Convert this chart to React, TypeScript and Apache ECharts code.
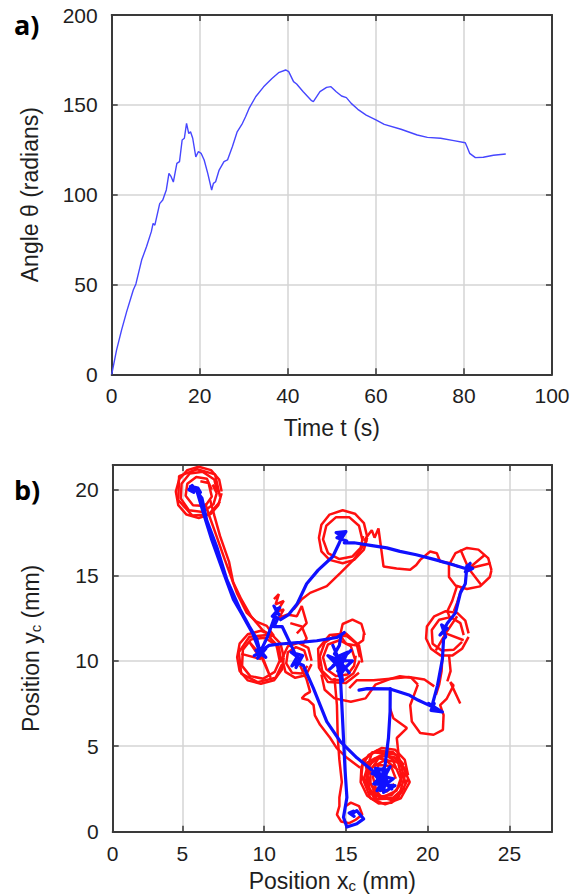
import React, { useEffect, useRef } from "react";
import * as echarts from "echarts";

// ---------- Panel a) : angle vs time ----------
const timeS = [0, 1.1, 2.25, 3.4, 4.9, 5.5, 6.8, 7.9, 9.0, 9.4, 9.8, 10.9, 11.6, 12.4, 13.0, 13.5, 14.0, 14.8, 15.4, 16.0, 16.5, 17.0, 17.5, 17.9, 18.4, 19.1, 19.7, 20.3, 21.0, 21.8, 22.7, 23.1, 23.6, 24.4, 25.5, 26.3, 27.4, 28.5, 29.7, 30.4, 31.2, 32.7, 34.5, 36.4, 37.9, 39.5, 40.2, 41.3, 42.0, 43.5, 45.4, 45.8, 47.3, 48.8, 49.8, 51.0, 52.2, 53.3, 54.4, 55.9, 57.8, 60.0, 61.9, 65.7, 69.4, 71.7, 74.7, 77.7, 80.3, 80.7, 81.3, 82.6, 84.4, 86.7, 89.5];
const angleRad = [0, 13.5, 24.7, 34.9, 46.9, 50.3, 63.6, 71, 79.4, 84, 83, 95, 97, 102.6, 111.9, 110, 107, 117.4, 118.4, 130.4, 131.4, 139.7, 134, 135, 131.4, 121, 124, 123, 119.3, 112, 102.6, 106.3, 107.2, 113.7, 118.4, 119.3, 126.7, 135, 139.7, 143.4, 148, 154.5, 160, 164.7, 167.9, 169.4, 168.5, 162.9, 161.6, 157.3, 152.3, 151.8, 157.3, 159.7, 160.1, 157.3, 154.9, 154, 150.8, 147.5, 144.3, 141.6, 139.1, 136.4, 133.2, 131.9, 131.4, 130.1, 128.9, 126.7, 123, 120.6, 120.8, 121.9, 122.6];

// ---------- Panel b) : positions ----------
const xTickValues = [5, 10, 15, 20, 25];
const xLabelValues = [0.74, 5, 10, 15, 20, 25];
const yTickValues = [0, 5, 10, 15, 20];

// blue trajectory (segments)
const blueSegA = [[9.7, 10.6], [9.3, 11.6], [9.04, 12.04], [8.6, 12.8], [8.12, 13.58], [7.5, 15.2], [6.8, 17.06], [6.3, 18.6], [5.88, 19.95], [5.6, 20.25], [5.4, 20.0], [5.7, 19.85], [5.5, 20.2], [5.95, 20.1], [6.1, 19.85], [5.8, 20.05], [6.0, 19.75], [6.2, 19.5], [6.49, 18.22], [7.1, 16.67], [7.72, 14.74], [8.53, 13.0], [9.1, 12.0], [9.55, 11.27], [9.76, 10.5], [9.4, 10.3], [10.1, 10.7], [9.6, 10.15], [9.9, 10.75], [9.5, 10.6], [10.1, 10.2], [9.85, 10.5]];
const blueSegB = [[9.85, 10.6], [10.3, 10.9], [10.98, 10.98], [12.2, 11.07], [13.22, 11.17], [14.45, 11.36], [14.9, 11.65], [14.7, 11.5], [14.6, 10.9], [14.3, 10.4], [14.7, 10.1], [14.2, 9.7], [14.9, 10.2], [14.5, 9.4], [14.8, 9.9], [15.1, 10.5], [14.4, 10.2], [14.6, 9.1], [14.9, 9.5], [14.3, 9.9], [13.9, 10.3], [14.6, 10.0], [15.3, 10.6], [14.6, 10.0], [14.0, 9.5], [14.6, 10.0], [15.2, 9.3], [14.6, 10.0], [14.2, 10.9], [14.6, 10.0], [14.8, 8.8], [14.6, 10.0], [15.4, 10.0], [14.65, 9.3], [14.75, 7.4], [14.85, 5.5], [14.95, 3.55], [15.06, 2.0], [14.85, 0.85], [15.06, 0.27], [15.67, 0.46], [16.08, 0.75], [15.67, 1.23], [15.36, 1.04], [15.5, 0.9], [15.2, 1.1], [15.45, 1.2]];
const blueSegC = [[9.76, 10.5], [10.2, 11.4], [10.55, 12.3], [10.75, 12.9], [10.6, 13.2], [10.9, 12.7], [10.7, 13.0], [10.95, 13.1], [10.5, 12.6], [10.85, 12.5], [10.6, 12.0], [11.1, 12.0], [11.4, 11.4], [11.7, 10.8], [12.0, 10.2], [11.7, 9.7], [12.1, 10.0], [11.95, 9.6], [12.35, 10.3], [11.65, 10.5], [12.2, 10.1], [12.0, 9.9], [12.4, 9.72], [13.02, 8.37], [13.83, 6.44], [14.65, 5.28], [15.67, 4.32], [16.6, 3.6], [17.2, 3.16], [17.0, 3.5], [17.3, 2.6], [16.9, 2.9], [17.4, 3.4], [17.1, 2.4], [17.5, 3.0], [16.8, 3.3], [17.2, 2.8], [17.3, 3.7], [16.6, 3.4], [17.9, 3.1], [16.9, 2.4], [17.7, 3.8], [16.7, 2.8], [18.0, 2.7], [17.3, 2.3], [17.5, 3.6], [16.8, 3.7], [17.2, 3.0], [17.8, 2.5], [16.9, 3.2], [17.0, 3.0]];
const blueSegD = [[11.0, 12.4], [11.5, 12.7], [12.0, 13.3], [12.6, 14.5], [13.3, 15.3], [14.2, 16.1], [14.6, 16.9], [14.75, 17.3], [14.4, 17.5], [15.0, 17.55], [14.7, 17.1], [14.85, 17.4], [14.45, 17.2], [15.05, 17.0], [14.9, 16.9], [15.5, 16.9], [16.5, 16.75], [17.5, 16.6], [18.3, 16.4], [19.3, 16.2], [20.5, 15.9], [21.6, 15.6], [22.3, 15.4], [22.6, 15.7], [22.3, 15.2], [22.75, 15.4], [22.4, 15.55], [22.3, 14.5], [22.0, 13.97], [21.7, 12.8], [21.2, 12.2], [20.97, 11.75], [20.75, 11.5], [21.2, 11.9], [20.85, 12.1], [21.1, 11.4], [20.97, 11.27], [20.9, 10.1], [20.6, 8.56], [20.25, 7.31], [20.55, 7.2], [20.05, 7.5], [20.9, 7.0], [20.2, 7.1], [20.4, 7.5], [20.3, 7.3], [19.4, 7.7], [18.9, 7.98], [17.7, 8.35], [16.3, 8.37], [15.8, 8.28]];
const blueSegE = [[17.71, 8.37], [17.7, 7.02], [17.6, 5.48], [17.4, 3.93], [17.2, 3.16]];

// red trajectory (segments)
const redRingA1 = [[7.4, 19.9], [7.25, 20.6], [6.75, 21.15], [6.0, 21.35], [5.3, 21.15], [4.8, 20.6], [4.6, 19.9], [4.75, 19.1], [5.25, 18.55], [6.0, 18.35], [6.75, 18.6], [7.2, 19.1], [7.4, 19.8]];
const redRingA2 = [[7.15, 19.85], [6.95, 20.6], [6.25, 21.05], [5.45, 20.95], [4.95, 20.35], [4.9, 19.5], [5.4, 18.8], [6.25, 18.7], [6.9, 19.15], [7.1, 19.8], [6.85, 20.3]];
const redRingA3 = [[6.8, 20.0], [6.5, 20.65], [5.85, 20.75], [5.3, 20.35], [5.2, 19.65], [5.65, 19.1], [6.4, 19.05], [6.8, 19.6], [6.6, 20.4], [6.1, 20.5]];
const redRingA4 = [[7.3, 19.6], [7.0, 20.9], [5.9, 21.2], [4.8, 20.8], [4.75, 19.4], [5.6, 18.5], [6.6, 18.55], [7.3, 19.3]];
const redDownA1 = [[6.4, 19.2], [6.6, 18.6], [6.9, 17.8], [7.6, 15.9], [8.33, 13.97], [8.94, 12.8], [9.5, 12.3], [10.16, 12.04], [10.6, 11.45]];
const redDownA2 = [[6.7, 19.4], [6.95, 18.5], [7.3, 17.3], [7.85, 15.8], [8.1, 14.6], [8.6, 13.6], [9.2, 12.6], [9.9, 11.8], [10.5, 11.4]];
const redRingB1 = [[11.2, 10.2], [11.0, 11.0], [10.5, 11.5], [9.8, 11.75], [9.0, 11.55], [8.5, 11.0], [8.35, 10.2], [8.5, 9.4], [9.0, 8.85], [9.8, 8.65], [10.6, 8.85], [11.1, 9.5], [11.2, 10.2]];
const redRingB2 = [[10.95, 10.1], [10.75, 10.9], [10.05, 11.35], [9.2, 11.25], [8.7, 10.65], [8.65, 9.7], [9.15, 9.1], [9.95, 8.95], [10.65, 9.35], [10.95, 10.0], [10.8, 10.7]];
const redRingB3 = [[11.05, 9.9], [10.9, 10.8], [10.2, 11.5], [9.1, 11.4], [8.45, 10.5], [8.6, 9.25], [9.6, 8.75], [10.7, 9.0], [11.1, 9.8]];
const redSpokesB = [[9.8, 10.3], [10.4, 9.0], [9.9, 10.2], [9.1, 11.1], [9.8, 10.1], [8.6, 10.4]];
const redRingD1 = [[12.9, 10.0], [12.7, 10.75], [12.1, 11.05], [11.45, 10.85], [11.1, 10.15], [11.3, 9.35], [11.9, 9.0], [12.55, 9.15], [12.9, 9.8]];
const redRingD2 = [[12.65, 10.0], [12.45, 10.6], [11.95, 10.8], [11.45, 10.5], [11.35, 9.85], [11.7, 9.3], [12.3, 9.25], [12.65, 9.7]];
const redRingE1 = [[15.85, 10.2], [15.65, 11.0], [15.05, 11.45], [14.3, 11.45], [13.7, 11.05], [13.4, 10.25], [13.55, 9.4], [14.1, 8.9], [14.85, 8.85], [15.45, 9.25], [15.85, 10.0]];
const redRingE2 = [[15.55, 10.1], [15.3, 10.85], [14.6, 11.2], [13.9, 10.95], [13.6, 10.2], [13.8, 9.5], [14.4, 9.1], [15.1, 9.2], [15.5, 9.7], [15.6, 10.3]];
const redRingE4 = [[16.0, 9.9], [15.8, 10.9], [15.0, 11.6], [14.0, 11.5], [13.3, 10.7], [13.35, 9.6], [13.9, 8.75], [15.0, 8.7], [15.8, 9.3]];
const redRingE3 = [[16.15, 11.5], [15.95, 12.15], [15.4, 12.4], [14.8, 12.15], [14.65, 11.5], [15.0, 11.0], [15.6, 10.9], [16.05, 11.2], [16.1, 11.6]];
const redBelowE = [[13.5, 9.2], [13.7, 8.3], [14.3, 7.8], [15.3, 7.6], [16.2, 7.8], [16.8, 8.6], [17.6, 8.9], [18.3, 9.1], [19.0, 9.0], [19.4, 8.6]];
const redJitterC = [[10.6, 13.6], [10.9, 13.9], [10.7, 13.3], [11.2, 13.5], [10.8, 12.9], [11.2, 13.0], [10.9, 12.5], [11.4, 12.7], [12.0, 12.6], [12.3, 13.2], [12.6, 12.2], [12.0, 11.6]];
const redCD = [[11.6, 12.2], [12.3, 12.0], [12.6, 11.3], [12.3, 10.9]];
const redCF = [[11.8, 13.0], [12.3, 13.6], [12.81, 13.97], [13.83, 14.36], [14.65, 15.13], [15.46, 15.9], [15.9, 16.5], [16.28, 17.06]];
const redRingF1 = [[16.3, 17.25], [16.1, 18.05], [15.55, 18.6], [14.8, 18.8], [14.0, 18.55], [13.5, 17.95], [13.35, 17.2], [13.5, 16.4], [14.0, 15.9], [14.8, 15.7], [15.5, 15.9], [16.1, 16.5], [16.3, 17.2]];
const redRingF2 = [[16.0, 17.1], [15.8, 17.9], [15.2, 18.4], [14.4, 18.4], [13.8, 17.9], [13.6, 17.1], [13.9, 16.3], [14.6, 15.95], [15.4, 16.1], [15.9, 16.6], [16.05, 17.3]];
const redFG = [[16.1, 17.0], [16.28, 17.25], [16.58, 17.64], [16.75, 17.2], [16.99, 17.74], [17.15, 16.6], [17.3, 15.51], [18.1, 15.4], [18.93, 15.32], [19.3, 15.6], [19.54, 15.9], [20.15, 16.39], [20.56, 16.29], [20.76, 15.8], [21.38, 15.7], [21.9, 15.5]];
const redRingG = [[23.9, 15.3], [23.7, 16.0], [23.1, 16.5], [22.4, 16.6], [21.7, 16.3], [21.3, 15.6], [21.3, 14.9], [21.7, 14.4], [22.4, 14.2], [23.2, 14.35], [23.8, 14.9], [23.9, 15.3]];
const redSpokesG = [[22.5, 15.4], [23.85, 15.7], [22.5, 15.4], [23.3, 14.4], [22.5, 15.4], [23.5, 16.2], [22.5, 15.4], [22.0, 16.5]];
const redGH1 = [[21.8, 14.4], [21.5, 13.5], [21.2, 12.9], [21.4, 12.4]];
const redGH2 = [[22.1, 14.3], [21.8, 13.4], [21.6, 12.9]];
const redRingH1 = [[22.5, 11.6], [22.3, 12.35], [21.8, 12.8], [21.1, 12.9], [20.4, 12.6], [19.95, 12.0], [19.9, 11.3], [20.2, 10.7], [20.8, 10.3], [21.5, 10.3], [22.1, 10.7], [22.5, 11.4]];
const redRingH2 = [[22.2, 11.5], [22.0, 12.2], [21.4, 12.55], [20.7, 12.4], [20.25, 11.8], [20.3, 11.0], [20.85, 10.6], [21.6, 10.65], [22.1, 11.1]];
const redSpokesH = [[21.1, 11.6], [22.2, 11.2], [21.1, 11.6], [20.5, 10.6], [21.1, 11.6], [21.8, 12.6]];
const redHI1 = [[20.9, 10.3], [20.85, 9.4], [20.7, 8.6], [20.5, 8.0]];
const redHI2 = [[21.3, 10.35], [21.4, 9.4], [21.2, 8.8]];
const redLoopI = [[19.4, 8.6], [18.93, 7.4], [19.03, 6.44], [19.54, 5.77], [20.36, 5.67], [20.93, 5.96], [20.97, 6.83], [20.76, 7.4], [21.17, 7.79], [21.58, 8.56], [21.38, 8.75], [21.99, 7.5]];
const redIL = [[20.4, 8.5], [19.8, 8.9], [18.83, 9.05], [17.71, 8.95], [16.69, 8.86], [15.67, 8.86], [15.2, 8.4]];
const redLJ = [[17.7, 7.2], [17.9, 6.64], [18.73, 6.06], [18.11, 5.48], [18.22, 4.5]];
const redRingJ1 = [[18.8, 3.3], [18.6, 4.2], [18.0, 4.8], [17.2, 4.9], [16.4, 4.5], [15.95, 3.8], [15.9, 2.9], [16.3, 2.1], [17.0, 1.65], [17.8, 1.7], [18.4, 2.3], [18.8, 3.1]];
const redRingJ2 = [[18.4, 3.2], [18.2, 4.0], [17.5, 4.45], [16.7, 4.25], [16.25, 3.5], [16.35, 2.55], [17.0, 2.05], [17.8, 2.15], [18.3, 2.7], [18.5, 3.5]];
const redRingJ3 = [[18.05, 3.1], [17.75, 3.85], [17.0, 3.9], [16.65, 3.2], [16.85, 2.45], [17.5, 2.35], [17.95, 2.8]];
const redRingJ4 = [[18.65, 2.8], [18.2, 4.5], [16.6, 4.65], [16.1, 3.1], [16.75, 1.9], [18.2, 1.95], [18.7, 3.6], [17.6, 4.7], [16.2, 4.0], [16.5, 2.2], [18.0, 1.8]];
const redRingJ5 = [[18.55, 3.9], [17.9, 4.65], [16.9, 4.75], [16.05, 4.2], [15.95, 3.3], [16.5, 1.95], [17.4, 1.6], [18.35, 1.95], [18.9, 2.9], [18.3, 4.2], [17.3, 4.55], [16.4, 3.9], [16.2, 2.8], [16.9, 1.9], [17.9, 2.0], [18.6, 2.6]];
const redRingJ6 = [[18.2, 3.6], [17.4, 4.2], [16.5, 3.7], [16.5, 2.8], [17.2, 2.0], [18.1, 2.4], [18.35, 3.1], [17.9, 4.1], [17.0, 4.3], [16.3, 3.3], [16.8, 2.2], [17.8, 1.9]];
const redDJ = [[12.2, 9.72], [12.6, 8.9], [12.81, 8.18], [12.5, 8.0], [12.3, 7.8], [12.7, 7.7], [13.02, 7.41], [13.1, 6.8], [13.42, 6.25], [14.04, 5.48], [14.44, 4.89], [15.06, 4.32], [15.87, 3.74]];
const redEK = [[14.3, 9.0], [14.45, 7.4], [14.5, 5.5], [14.6, 4.2], [14.75, 2.9], [14.6, 2.0], [14.6, 1.5], [14.45, 1.0], [14.7, 0.6], [15.2, 0.5], [15.6, 0.7], [16.0, 1.0], [15.8, 1.5], [15.3, 1.7], [15.0, 1.5]];

const blueSegments = [blueSegA, blueSegB, blueSegC, blueSegD, blueSegE];
const redSegments = [redRingA1, redRingA2, redRingA3, redRingA4, redDownA1, redDownA2, redRingB1, redRingB2, redRingB3, redSpokesB, redRingD1, redRingD2, redRingE1, redRingE2, redRingE4, redRingE3, redBelowE, redJitterC, redCD, redCF, redRingF1, redRingF2, redFG, redRingG, redSpokesG, redGH1, redGH2, redRingH1, redRingH2, redSpokesH, redHI1, redHI2, redLoopI, redIL, redLJ, redRingJ1, redRingJ2, redRingJ3, redRingJ4, redRingJ5, redRingJ6, redDJ, redEK];

const FONT = "'Liberation Sans', Arial, sans-serif";
const FRAME = "#3a3a3a";
const TXT = "#1e1e1e";
const GRIDC = "#d4d4d4";

const frameLine = { show: true, onZero: false, lineStyle: { color: FRAME, width: 2 } };
const innerTick = { show: true, inside: true, length: 6, lineStyle: { color: FRAME, width: 1.5 } };
const tickLabel = { fontSize: 21, color: TXT, fontFamily: FONT };
const nameStyle = {
  fontSize: 23,
  color: TXT,
  fontFamily: FONT,
  rich: { sub: { fontSize: 15, fontFamily: FONT, color: TXT, verticalAlign: "bottom", lineHeight: 12 } },
};

export default function App() {
  const ref = useRef<HTMLDivElement>(null);
  useEffect(() => {
    document.body.style.margin = "0";
    if (!ref.current) return;
    const chart = echarts.init(ref.current, null, { renderer: "svg" });
    const lineA = timeS.map((t, i) => [t, angleRad[i]]);
    const option: any = {
      animation: false,
      backgroundColor: "#ffffff",
      textStyle: { fontFamily: FONT },
      grid: [
        { left: 111.7, top: 15, width: 440.3, height: 359.3, containLabel: false, outerBoundsMode: "none" },
        { left: 112.7, top: 465, width: 439.3, height: 366.7, containLabel: false, outerBoundsMode: "none" },
      ],
      xAxis: [
        {
          gridIndex: 0, type: "value", position: "bottom", min: 0, max: 100, interval: 20,
          axisLine: frameLine, axisTick: innerTick,
          axisLabel: { ...tickLabel, margin: 11 },
          splitLine: { show: true, lineStyle: { color: GRIDC, width: 1.5 } },
          name: "Time t (s)", nameLocation: "middle", nameGap: 42, nameMoveOverlap: false, nameTextStyle: nameStyle,
        },
        {
          gridIndex: 0, type: "value", position: "top", min: 0, max: 100, interval: 20,
          axisLine: frameLine, axisTick: innerTick, axisLabel: { show: false }, splitLine: { show: false },
        },
        {
          gridIndex: 1, type: "value", position: "bottom", min: 0.74, max: 27.6,
          axisLine: frameLine,
          axisTick: { ...innerTick, customValues: xTickValues },
          axisLabel: { ...tickLabel, margin: 11, customValues: xLabelValues, formatter: (v: number) => (v < 1 ? "0" : String(v)) },
          splitLine: { show: true, lineStyle: { color: GRIDC, width: 1.5 } },
          name: "Position x{sub|c} (mm)", nameLocation: "middle", nameGap: 38, nameMoveOverlap: false, nameTextStyle: nameStyle,
        },
        {
          gridIndex: 1, type: "value", position: "top", min: 0.74, max: 27.6,
          axisLine: frameLine, axisTick: { ...innerTick, customValues: xTickValues }, axisLabel: { show: false }, splitLine: { show: false },
        },
      ],
      yAxis: [
        {
          gridIndex: 0, type: "value", position: "left", min: 0, max: 200, interval: 50,
          axisLine: frameLine, axisTick: innerTick,
          axisLabel: { ...tickLabel, margin: 14 },
          splitLine: { show: true, lineStyle: { color: GRIDC, width: 1.5 } },
          name: "Angle θ (radians)", nameLocation: "middle", nameRotate: 90, nameGap: 70, nameMoveOverlap: false, nameTextStyle: nameStyle,
        },
        {
          gridIndex: 0, type: "value", position: "right", min: 0, max: 200, interval: 50,
          axisLine: frameLine, axisTick: innerTick, axisLabel: { show: false }, splitLine: { show: false },
        },
        {
          gridIndex: 1, type: "value", position: "left", min: 0, max: 21.45,
          axisLine: frameLine,
          axisTick: { ...innerTick, customValues: yTickValues },
          axisLabel: { ...tickLabel, margin: 14, customValues: yTickValues },
          splitLine: { show: true, lineStyle: { color: GRIDC, width: 1.5 } },
          name: "Position y{sub|c} (mm)", nameLocation: "middle", nameRotate: 90, nameGap: 70, nameMoveOverlap: false, nameTextStyle: nameStyle,
        },
        {
          gridIndex: 1, type: "value", position: "right", min: 0, max: 21.45,
          axisLine: frameLine, axisTick: { ...innerTick, customValues: yTickValues }, axisLabel: { show: false }, splitLine: { show: false },
        },
      ],
      graphic: [
        { type: "text", left: 14, top: 11, style: { text: "a)", font: "bold 27px 'Open Sans', sans-serif", fill: "#000" } },
        { type: "text", left: 14, top: 476, style: { text: "b)", font: "bold 27px 'Open Sans', sans-serif", fill: "#000" } },
      ],
      series: [
        {
          type: "line", xAxisIndex: 0, yAxisIndex: 0, data: lineA, showSymbol: false, silent: true,
          lineStyle: { color: "#4646ff", width: 1.4 },
        },
        ...redSegments.map((seg) => ({
          type: "line", xAxisIndex: 2, yAxisIndex: 2, data: seg, showSymbol: false, silent: true,
          lineStyle: { color: "#ff1010", width: 2.5 },
        })),
        ...blueSegments.map((seg) => ({
          type: "line", xAxisIndex: 2, yAxisIndex: 2, data: seg, showSymbol: false, silent: true,
          lineStyle: { color: "#1010ff", width: 3.2, join: "round", cap: "round" },
        })),
      ],
    };
    chart.setOption(option);
    return () => chart.dispose();
  }, []);
  return <div ref={ref} style={{ width: 573, height: 895 }} />;
}
